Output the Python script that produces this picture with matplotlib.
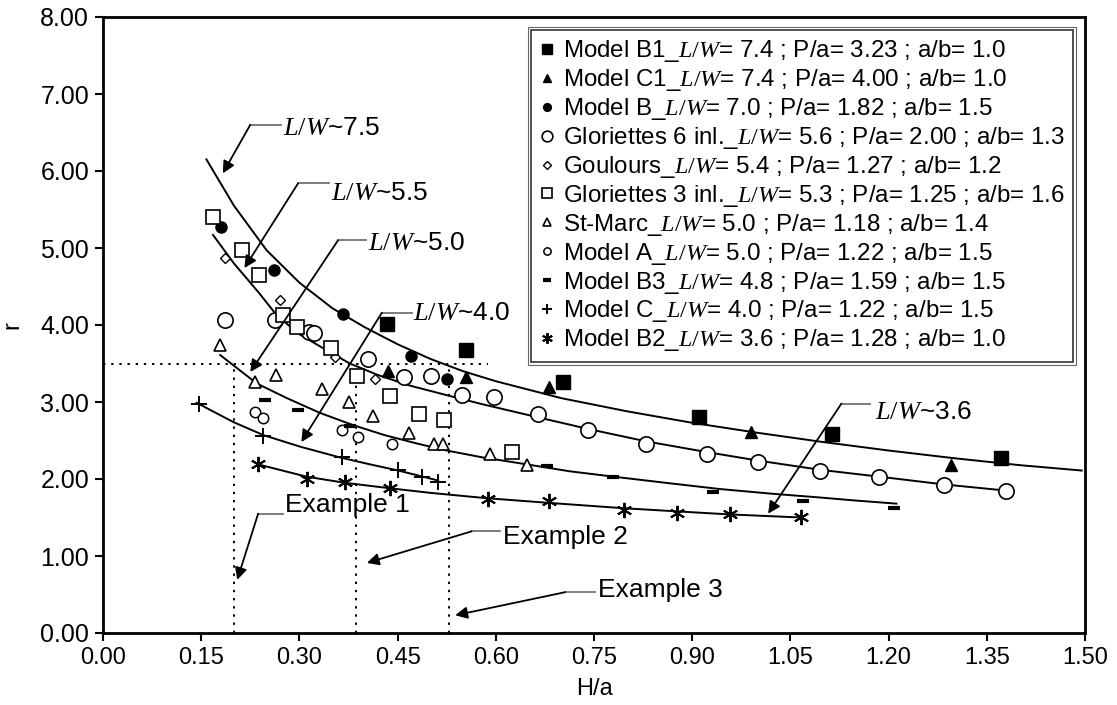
import matplotlib
matplotlib.use('Agg')
import matplotlib.pyplot as plt
from matplotlib.lines import Line2D
from matplotlib.patches import Rectangle
from matplotlib.transforms import IdentityTransform

plt.rcParams['font.family'] = ['Liberation Sans', 'DejaVu Sans']
plt.rcParams['mathtext.fontset'] = 'custom'
plt.rcParams['mathtext.it'] = 'Liberation Serif:italic'
plt.rcParams['mathtext.rm'] = 'Liberation Serif'

# ---------------- data ----------------
b1_x = [0.434, 0.554, 0.702, 0.910, 1.113, 1.372]
b1_y = [4.01, 3.67, 3.26, 2.80, 2.58, 2.27]

c1_x = [0.435, 0.555, 0.681, 0.990, 1.296]
c1_y = [3.40, 3.33, 3.19, 2.61, 2.18]

mb_x = [0.181, 0.261, 0.366, 0.470, 0.526]
mb_y = [5.27, 4.71, 4.14, 3.60, 3.30]

gl6_x = [0.186, 0.263, 0.315, 0.322, 0.405, 0.460, 0.501, 0.549, 0.598, 0.665,
         0.741, 0.829, 0.922, 1.001, 1.095, 1.186, 1.284, 1.379]
gl6_y = [4.07, 4.06, 3.91, 3.90, 3.56, 3.33, 3.34, 3.09, 3.06, 2.85,
         2.64, 2.45, 2.32, 2.22, 2.10, 2.02, 1.92, 1.84]

gou_x = [0.186, 0.270, 0.354, 0.415]
gou_y = [4.87, 4.32, 3.58, 3.30]

gl3_x = [0.168, 0.213, 0.238, 0.275, 0.296, 0.349, 0.388, 0.438, 0.482, 0.521, 0.625]
gl3_y = [5.40, 4.97, 4.65, 4.13, 3.98, 3.70, 3.34, 3.08, 2.84, 2.77, 2.35]

stm_x = [0.179, 0.232, 0.265, 0.334, 0.376, 0.412, 0.468, 0.506, 0.519, 0.591, 0.648]
stm_y = [3.74, 3.26, 3.35, 3.17, 3.00, 2.82, 2.60, 2.46, 2.46, 2.32, 2.18]

ma_x = [0.232, 0.245, 0.365, 0.390, 0.441]
ma_y = [2.87, 2.79, 2.63, 2.54, 2.45]

b3_x = [0.247, 0.298, 0.377, 0.678, 0.779, 0.932, 1.069, 1.209]
b3_y = [3.02, 2.90, 2.69, 2.17, 2.03, 1.83, 1.72, 1.62]

mc_x = [0.146, 0.245, 0.365, 0.451, 0.487, 0.512]
mc_y = [2.98, 2.56, 2.29, 2.12, 2.03, 1.96]

b2_x = [0.237, 0.311, 0.370, 0.438, 0.588, 0.682, 0.796, 0.877, 0.957, 1.066]
b2_y = [2.19, 2.00, 1.96, 1.88, 1.74, 1.71, 1.60, 1.56, 1.54, 1.51]

# trend curves
cur75_x = [0.158, 0.20, 0.25, 0.30, 0.35, 0.40, 0.45, 0.50, 0.55, 0.60, 0.70,
           0.80, 0.90, 1.00, 1.10, 1.20, 1.30, 1.40, 1.495]
cur75_y = [6.15, 5.55, 4.97, 4.55, 4.22, 3.97, 3.75, 3.56, 3.40, 3.27, 3.05,
           2.88, 2.73, 2.60, 2.48, 2.37, 2.27, 2.18, 2.11]

cur55_x = [0.168, 0.20, 0.237, 0.266, 0.30, 0.34, 0.377, 0.42, 0.47, 0.52, 0.58,
           0.665, 0.741, 0.829, 0.922, 1.00, 1.095, 1.186, 1.284, 1.379]
cur55_y = [5.17, 4.80, 4.43, 4.12, 3.88, 3.68, 3.50, 3.35, 3.21, 3.10, 2.97,
           2.80, 2.65, 2.49, 2.35, 2.24, 2.12, 2.03, 1.93, 1.85]

cur50_x = [0.179, 0.235, 0.281, 0.331, 0.382, 0.43, 0.48, 0.525, 0.58, 0.64,
           0.713, 0.79, 0.87, 0.942, 1.02, 1.095, 1.15, 1.212]
cur50_y = [3.61, 3.24, 3.05, 2.86, 2.70, 2.57, 2.46, 2.37, 2.28, 2.20,
           2.10, 2.02, 1.94, 1.87, 1.81, 1.76, 1.72, 1.68]

cur40_x = [0.143, 0.199, 0.245, 0.301, 0.362, 0.408, 0.451, 0.484, 0.512]
cur40_y = [2.99, 2.74, 2.57, 2.42, 2.28, 2.19, 2.11, 2.04, 1.98]

cur36_x = [0.237, 0.311, 0.370, 0.438, 0.50, 0.587, 0.681, 0.796, 0.876, 0.957, 1.066]
cur36_y = [2.19, 2.03, 1.95, 1.88, 1.82, 1.75, 1.69, 1.62, 1.58, 1.54, 1.50]

x_ticks = [0.00, 0.15, 0.30, 0.45, 0.60, 0.75, 0.90, 1.05, 1.20, 1.35, 1.50]
y_ticks = [0, 1, 2, 3, 4, 5, 6, 7, 8]

LW = r'$\mathit{L/W}$'
labels = [
    f"Model B1_{LW}= 7.4 ; P/a= 3.23 ; a/b= 1.0",
    f"Model C1_{LW}= 7.4 ; P/a= 4.00 ; a/b= 1.0",
    f"Model B_{LW}= 7.0 ; P/a= 1.82 ; a/b= 1.5",
    f"Gloriettes 6 inl._{LW}= 5.6 ; P/a= 2.00 ; a/b= 1.3",
    f"Goulours_{LW}= 5.4 ; P/a= 1.27 ; a/b= 1.2",
    f"Gloriettes 3 inl._{LW}= 5.3 ; P/a= 1.25 ; a/b= 1.6",
    f"St-Marc_{LW}= 5.0 ; P/a= 1.18 ; a/b= 1.4",
    f"Model A_{LW}= 5.0 ; P/a= 1.22 ; a/b= 1.5",
    f"Model B3_{LW}= 4.8 ; P/a= 1.59 ; a/b= 1.5",
    f"Model C_{LW}= 4.0 ; P/a= 1.22 ; a/b= 1.5",
    f"Model B2_{LW}= 3.6 ; P/a= 1.28 ; a/b= 1.0",
]

# ---------------- figure ----------------
W, H = 1117, 705
fig = plt.figure(figsize=(W / 100, H / 100), dpi=100)
ax = fig.add_axes([103 / W, 1 - 633 / H, 982 / W, 616 / H])
ax.set_xlim(0, 1.5)
ax.set_ylim(0, 8)

# trend curves
for cx, cy in [(cur75_x, cur75_y), (cur55_x, cur55_y), (cur50_x, cur50_y),
               (cur40_x, cur40_y), (cur36_x, cur36_y)]:
    ax.plot(cx, cy, color='black', lw=1.4, zorder=2)

# dotted guides
dot = (0, (1.2, 3.0))
ax.plot([0, 0.588], [3.5, 3.5], color='black', lw=1.4, ls=dot, zorder=1)
for xv in [0.20, 0.387, 0.528]:
    ax.plot([xv, xv], [0, 3.5], color='black', lw=1.4, ls=dot, zorder=1)

# series
series = [
    (b1_x, b1_y, dict(marker='s', ms=9.5, mfc='black', mec='black')),
    (c1_x, c1_y, dict(marker='^', ms=9, mfc='black', mec='black')),
    (mb_x, mb_y, dict(marker='o', ms=8, mfc='black', mec='black')),
    (gl6_x, gl6_y, dict(marker='o', ms=11, mfc='white', mec='black', mew=1.2)),
    (gou_x, gou_y, dict(marker='D', ms=5.5, mfc='white', mec='black', mew=1.0)),
    (gl3_x, gl3_y, dict(marker='s', ms=9.5, mfc='white', mec='black', mew=1.2)),
    (stm_x, stm_y, dict(marker='^', ms=9, mfc='white', mec='black', mew=1.2)),
    (ma_x, ma_y, dict(marker='o', ms=7.5, mfc='white', mec='black', mew=1.1)),
    (b3_x, b3_y, dict(marker='_', ms=9, mec='black', mew=3.0)),
    (mc_x, mc_y, dict(marker='+', ms=11, mec='black', mew=1.4)),
    (b2_x, b2_y, dict(marker=(6, 2, 0), ms=11, mec='black', mew=1.4)),
]
handles = []
for xs, ys, st in series:
    ax.plot(xs, ys, ls='none', zorder=3, **st)
    handles.append(Line2D([], [], ls='none', **st))

# callouts
def callout(text, tx, ty, cx, cy, hend, tipx, tipy, size=19):
    ax.plot([cx, hend], [cy, cy], color='0.45', lw=1.3, zorder=4)
    ax.annotate('', xy=(tipx, tipy), xytext=(cx, cy),
                arrowprops=dict(arrowstyle='-|>', color='black', lw=1.3,
                                mutation_scale=18, shrinkA=0, shrinkB=0),
                zorder=4)
    ax.text(tx, ty, text, fontsize=size, va='center', ha='left', zorder=4)

callout(f'{LW}~7.5', 0.275, 6.56, 0.225, 6.60, 0.272, 0.183, 5.97)
callout(f'{LW}~5.5', 0.349, 5.72, 0.298, 5.84, 0.345, 0.216, 4.74)
callout(f'{LW}~5.0', 0.405, 5.06, 0.359, 5.10, 0.402, 0.225, 3.39)
callout(f'{LW}~4.0', 0.474, 4.16, 0.426, 4.16, 0.472, 0.303, 2.48)
callout(f'{LW}~3.6', 1.179, 2.87, 1.128, 2.98, 1.172, 1.016, 1.55)
callout('Example 1', 0.278, 1.66, 0.237, 1.55, 0.275, 0.205, 0.69)
callout('Example 2', 0.611, 1.25, 0.563, 1.32, 0.607, 0.403, 0.91)
callout('Example 3', 0.756, 0.56, 0.706, 0.53, 0.752, 0.538, 0.23)

# axes styling
ax.set_xticks(x_ticks)
ax.set_xticklabels([f'{v:.2f}' for v in x_ticks], fontsize=17)
ax.set_yticks(y_ticks)
ax.set_yticklabels([f'{v:.2f}' for v in y_ticks], fontsize=18)
ax.tick_params(direction='out', length=6, width=1.5, pad=4)
for sp in ax.spines.values():
    sp.set_linewidth(2.0)
fig.text(12 / W, 1 - 325 / H, 'r', fontsize=17, rotation=90, ha='center', va='center')
fig.text(594 / W, 1 - 689 / H, 'H/a', fontsize=17, ha='center', va='center')

leg = ax.legend(handles, labels, loc='upper left', bbox_to_anchor=(0.436, 0.979),
                borderaxespad=0, fontsize=17.4, frameon=True, fancybox=False,
                edgecolor='black', handlelength=0.65, handletextpad=0.3,
                labelspacing=0.12, borderpad=0.35, markerscale=0.7)
leg.get_frame().set_linewidth(1.2)
leg.set_zorder(5)

fig.canvas.draw()
bb = leg.get_frame().get_window_extent()
fig.add_artist(Rectangle((bb.x0 - 3, bb.y0 - 3), bb.width + 6, bb.height + 6,
                         transform=IdentityTransform(), fill=False,
                         lw=0.8, ec='0.4', zorder=6))

fig.savefig('out.png', dpi=100)
